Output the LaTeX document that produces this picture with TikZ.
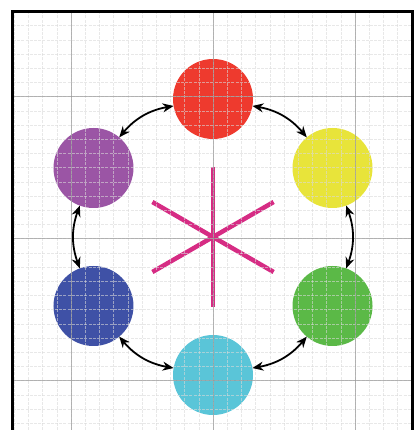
\documentclass[tikz,border=0pt]{standalone}
\usetikzlibrary{arrows.meta,calc}
\definecolor{cred}{RGB}{238,58,46}
\definecolor{cyellow}{RGB}{232,228,58}
\definecolor{cgreen}{RGB}{91,185,71}
\definecolor{ccyan}{RGB}{90,197,216}
\definecolor{cblue}{RGB}{63,81,166}
\definecolor{cpurple}{RGB}{155,85,165}
\definecolor{cmag}{RGB}{214,44,132}
\tikzset{
  dot/.style={circle, fill=#1, draw=none, minimum size=80pt, inner sep=0pt, outer sep=0pt},
  link/.style={<->, >={Stealth[length=11pt,width=9pt]}, line width=1.8pt, bend left=20},
  spoke/.style={cmag, line width=4.5pt},
  minorgrid/.style={gray!30, dash pattern=on 3pt off 1.2pt, line width=0.6pt, opacity=0.6},
  majorgrid/.style={gray!80, line width=0.9pt, opacity=0.7},
  frame/.style={black, line width=3pt}
}
\begin{document}
\begin{tikzpicture}[x=1pt,y=1pt]
\useasboundingbox (0,0) rectangle (419,430);
\coordinate (C) at (213,193);
% circles
\node[dot=cred]    (r) at ($(C)+(90:138)$) {};
\node[dot=cyellow] (y) at ($(C)+(30:138)$) {};
\node[dot=cgreen]  (g) at ($(C)+(-30:138)$) {};
\node[dot=ccyan]   (c) at ($(C)+(-90:138)$) {};
\node[dot=cblue]   (b) at ($(C)+(-150:138)$) {};
\node[dot=cpurple] (p) at ($(C)+(150:138)$) {};
% star
\foreach \a in {90,30,-30} {
  \draw[spoke] ($(C)+(\a:70)$) -- ($(C)+(\a+180:70)$);
}
% grid on top
\begin{scope}
\clip (13,0) rectangle (412,418.5);
\foreach \k in {1,...,28} {
  \draw[minorgrid] (14.2*\k,0) -- (14.2*\k,418.5);
}
\foreach \k in {0,...,29} {
  \draw[minorgrid] (13,418.5-14.2*\k) -- (412,418.5-14.2*\k);
}
\foreach \k in {5,15,25} {
  \draw[majorgrid] (14.2*\k,0) -- (14.2*\k,418.5);
}
\foreach \k in {6,16,26} {
  \draw[majorgrid] (13,418.5-14.2*\k) -- (412,418.5-14.2*\k);
}
\end{scope}
% arrows
\draw[link] (r) to (y);
\draw[link] (y) to (g);
\draw[link] (g) to (c);
\draw[link] (c) to (b);
\draw[link] (b) to (p);
\draw[link] (p) to (r);
% frame
\draw[frame] (12.5,0) -- (12.5,418) -- (412.5,418) -- (412.5,0);
\end{tikzpicture}
\end{document}
